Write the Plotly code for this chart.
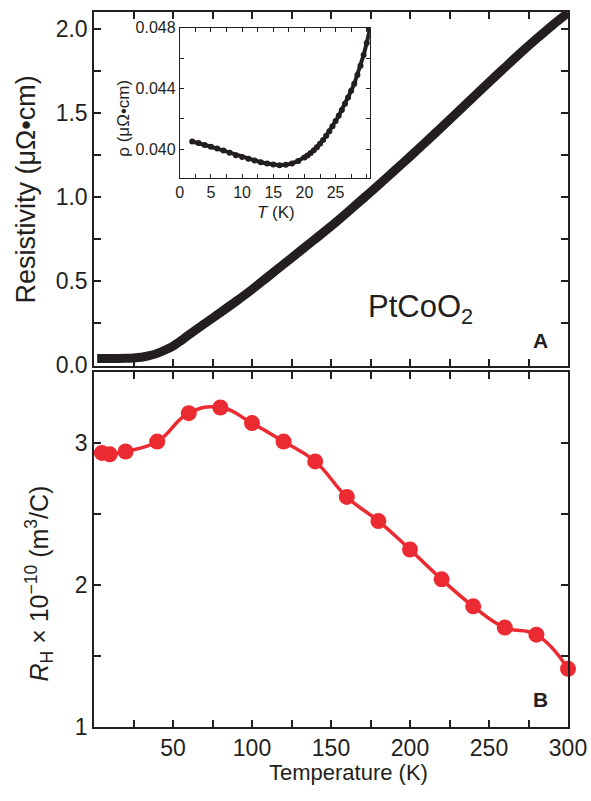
import plotly.graph_objects as go

# ---- Data ----
# Panel A: resistivity vs temperature
rho_T = [2, 5, 10, 15, 20, 25, 30, 35, 40, 45, 50, 55, 60, 70, 80, 90, 100, 110, 120,
         130, 140, 150, 160, 170, 180, 190, 200, 210, 220, 230, 240, 250, 260, 270,
         280, 290, 300]
rho_val = [0.040, 0.040, 0.040, 0.040, 0.041, 0.043, 0.047, 0.056, 0.070, 0.090, 0.113,
           0.145, 0.180, 0.247, 0.313, 0.380, 0.450, 0.525, 0.600, 0.675, 0.750, 0.826,
           0.906, 0.988, 1.071, 1.155, 1.240, 1.327, 1.415, 1.504, 1.593, 1.682, 1.770,
           1.857, 1.940, 2.020, 2.095]

# Inset: low-temperature resistivity
inset_T = [2, 3, 4, 5, 6, 7, 8, 9, 10, 11, 12, 13, 14, 15, 16, 17, 18, 19, 20, 20.5,
           21, 21.5, 22, 22.5, 23, 23.5, 24, 24.5, 25, 25.5, 26, 26.5, 27, 27.5, 28,
           28.5, 29, 29.5, 30, 30.5]
inset_rho = [0.04050, 0.04040, 0.04027, 0.04015, 0.04003, 0.03990, 0.03975, 0.03960,
             0.03948, 0.03936, 0.03924, 0.03913, 0.03905, 0.03898, 0.03894, 0.03896,
             0.03905, 0.03922, 0.03945, 0.03958, 0.03974, 0.03992, 0.04012, 0.04035,
             0.04060, 0.04088, 0.04118, 0.04150, 0.04185, 0.04220, 0.04258, 0.04298,
             0.04340, 0.04384, 0.04430, 0.04488, 0.04550, 0.04620, 0.04700, 0.04790]

# Panel B: Hall coefficient
rh_T = [5, 10, 20, 40, 60, 80, 100, 120, 140, 160, 180, 200, 220, 240, 260, 280, 300]
rh_val = [2.93, 2.92, 2.94, 3.01, 3.21, 3.25, 3.14, 3.01, 2.87, 2.62, 2.45, 2.25, 2.04,
          1.85, 1.70, 1.65, 1.41]

x_tickvals = [50, 100, 150, 200, 250, 300]
a_tickvals = [0.0, 0.5, 1.0, 1.5, 2.0]
a_ticktext = ["0.0", "0.5", "1.0", "1.5", "2.0"]
b_tickvals = [1, 2, 3]
inset_xticks = [0, 5, 10, 15, 20, 25]
inset_yticks = [0.040, 0.044, 0.048]
inset_yticktext = ["0.040", "0.044", "0.048"]

# ---- Styling ----
FONT = "Liberation Sans, Arial, sans-serif"
INK = "#231f20"
RED = "#ec2a31"
TICKSIZE = 23

fig = go.Figure()

fig.add_trace(go.Scatter(x=rho_T, y=rho_val, mode="lines",
                         line=dict(color=INK, width=9, shape="spline", smoothing=0.8),
                         xaxis="x", yaxis="y", showlegend=False))
fig.add_trace(go.Scatter(x=rh_T, y=rh_val, mode="lines+markers",
                         line=dict(color=RED, width=3.5, shape="spline", smoothing=1.3),
                         marker=dict(color=RED, size=16),
                         xaxis="x2", yaxis="y2", showlegend=False, cliponaxis=False))
fig.add_trace(go.Scatter(x=inset_T, y=inset_rho, mode="lines+markers",
                         line=dict(color=INK, width=4),
                         marker=dict(color=INK, size=6),
                         xaxis="x3", yaxis="y3", showlegend=False))

axis_common = dict(showline=True, linecolor=INK, linewidth=1.5, mirror="allticks",
                   ticks="inside", ticklen=7, tickwidth=1.5, tickcolor=INK,
                   showgrid=False, zeroline=False, automargin=False,
                   tickfont=dict(family=FONT, size=TICKSIZE, color=INK))

fig.update_layout(
    width=591, height=801, autosize=False,
    margin=dict(l=94, r=23, t=12, b=74, autoexpand=False),
    paper_bgcolor="white", plot_bgcolor="white",
    font=dict(family=FONT, color=INK),
    xaxis=dict(axis_common, domain=[0, 1], range=[0, 300], anchor="y",
               tickmode="array", tickvals=x_tickvals, showticklabels=False,
               minor=dict(dtick=25, tick0=0, ticks="inside", ticklen=7,
                          tickcolor=INK, tickwidth=1.5)),
    yaxis=dict(axis_common, domain=[0.5049, 1.0], range=[-0.005, 2.1], anchor="x",
               tickmode="array", tickvals=a_tickvals, ticktext=a_ticktext,
               minor=dict(dtick=0.25, tick0=0, ticks="inside", ticklen=7,
                          tickcolor=INK, tickwidth=1.5)),
    xaxis2=dict(axis_common, domain=[0, 1], range=[0, 300], anchor="y2",
                tickmode="array", tickvals=x_tickvals,
                minor=dict(dtick=25, tick0=0, ticks="inside", ticklen=7,
                           tickcolor=INK, tickwidth=1.5)),
    yaxis2=dict(axis_common, domain=[0, 0.4965], range=[1, 3.5], anchor="x2",
                tickmode="array", tickvals=b_tickvals,
                minor=dict(dtick=0.5, tick0=0, ticks="inside", ticklen=7,
                           tickcolor=INK, tickwidth=1.5)),
    xaxis3=dict(showline=True, linecolor=INK, linewidth=1, mirror="allticks",
                ticks="inside", ticklen=4, tickwidth=1, tickcolor=INK,
                showgrid=False, zeroline=False, domain=[0.181, 0.582],
                range=[0, 30.5], anchor="y3", tickmode="array", tickvals=inset_xticks,
                tickfont=dict(family=FONT, size=16, color=INK),
                minor=dict(dtick=2.5, tick0=0, ticks="inside", ticklen=4,
                           tickcolor=INK, tickwidth=1)),
    yaxis3=dict(showline=True, linecolor=INK, linewidth=1, mirror="allticks",
                ticks="inside", ticklen=4, tickwidth=1, tickcolor=INK,
                showgrid=False, zeroline=False, domain=[0.768, 0.978],
                range=[0.0381, 0.048], anchor="x3", tickmode="array",
                tickvals=inset_yticks, ticktext=inset_yticktext,
                tickfont=dict(family=FONT, size=16, color=INK),
                minor=dict(dtick=0.002, tick0=0.038, ticks="inside", ticklen=4,
                           tickcolor=INK, tickwidth=1)),
)

annotations = [
    dict(text="Resistivity (μΩ•cm)", x=-0.143, y=0.752, textangle=-90,
         font=dict(size=27)),
    dict(text="<i>R</i><sub>H</sub> × 10<sup>−10</sup> (m<sup>3</sup>/C)",
         x=-0.115, y=0.2014, textangle=-90, font=dict(size=25)),
    dict(text="Temperature (K)", x=0.536, y=-0.064, font=dict(size=22)),
    dict(text="PtCoO<sub>2</sub>", x=0.573, y=0.585, xanchor="left",
         font=dict(size=31)),
    dict(text="<b>A</b>", x=0.941, y=0.541, font=dict(size=21)),
    dict(text="<b>B</b>", x=0.941, y=0.0378, font=dict(size=21)),
    dict(text="<i>T</i> (K)", x=0.384, y=0.720, font=dict(size=17)),
    dict(text="ρ (μΩ•cm)", x=0.063, y=0.852, textangle=-90, font=dict(size=17)),
]
for a in annotations:
    base = dict(xref="paper", yref="paper", showarrow=False, xanchor="center",
                yanchor="middle")
    base.update(a)
    base["font"] = dict(family=FONT, color=INK, **a["font"])
    fig.add_annotation(**base)

# pin the 591x801 figure to the window's top-left corner (no default body margin)
pin_js = (
    "document.documentElement.style.margin='0';"
    "document.body.style.margin='0';"
    "document.body.style.overflow='hidden';"
    "var gd=document.getElementById('{plot_id}');"
    "gd.style.position='fixed';gd.style.left='0px';gd.style.top='0px';"
)
fig.write_html("out.html",
               config={"displayModeBar": False, "responsive": False},
               post_script=pin_js)
